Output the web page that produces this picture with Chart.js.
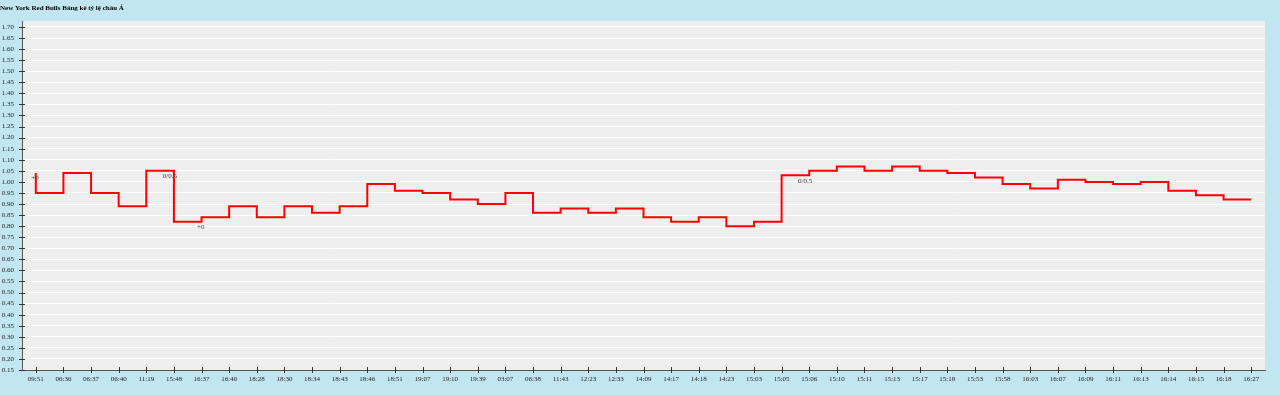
<!DOCTYPE html>
<html>
<head>
<meta charset="utf-8">
<script src="https://cdn.jsdelivr.net/npm/chart.js@4"></script>
<style>
  html, body { margin: 0; padding: 0; background: #c2e6f0; }
  #wrap { width: 1280px; height: 395px; }
</style>
</head>
<body>
<div id="wrap"><canvas id="c" width="1280" height="395"></canvas></div>
<script>
const chartTitle = 'New York Red Bulls Bảng kê tỷ lệ châu Á';

const timeLabels = ['09:51','06:36','06:37','06:40','11:19','15:48','16:37','16:40','18:28','18:30',
  '18:34','18:43','18:46','18:51','19:07','19:10','19:39','03:07','06:38','11:43',
  '12:23','12:33','14:09','14:17','14:18','14:23','15:03','15:05','15:06','15:10',
  '15:11','15:13','15:17','15:18','15:53','15:58','16:03','16:07','16:09','16:11',
  '16:13','16:14','16:15','16:18','16:27'];

const oddsValues = [1.04,0.95,1.04,0.95,0.89,1.05,0.82,0.84,0.89,0.84,
  0.89,0.86,0.89,0.99,0.96,0.95,0.92,0.90,0.95,0.86,
  0.88,0.86,0.88,0.84,0.82,0.84,0.80,0.82,1.03,1.05,
  1.07,1.05,1.07,1.05,1.04,1.02,0.99,0.97,1.01,1.00,
  0.99,1.00,0.96,0.94,0.92];

const handicapNotes = ['+0','','','','','0/0.5','+0','','','',
  '','','','','','','','','','',
  '','','','','','','','','0/0.5','',
  '','','','','','','','','','',
  '','','','',''];

const yTickValues = [0.15,0.20,0.25,0.30,0.35,0.40,0.45,0.50,0.55,0.60,
  0.65,0.70,0.75,0.80,0.85,0.90,0.95,1.00,1.05,1.10,
  1.15,1.20,1.25,1.30,1.35,1.40,1.45,1.50,1.55,1.60,1.65,1.70];

const serif = '"Liberation Serif", "Times New Roman", serif';

const decoPlugin = {
  id: 'deco',
  beforeDraw(chart) {
    const {ctx, chartArea: a} = chart;
    ctx.save();
    ctx.fillStyle = '#eeeeee';
    ctx.fillRect(a.left, a.top, a.right - a.left, a.bottom - a.top);
    ctx.restore();
  },
  afterDraw(chart) {
    const {ctx, chartArea: a, scales} = chart;
    ctx.save();
    ctx.strokeStyle = '#333';
    ctx.lineWidth = 1;
    ctx.beginPath();
    scales.y.ticks.forEach((t, i) => {
      const y = Math.round(scales.y.getPixelForTick(i)) + 0.5;
      ctx.moveTo(a.left - 3, y); ctx.lineTo(a.left + 3, y);
    });
    scales.x.ticks.forEach((t, i) => {
      const x = Math.round(scales.x.getPixelForTick(i)) + 0.5;
      ctx.moveTo(x, a.bottom - 3); ctx.lineTo(x, a.bottom + 3);
    });
    ctx.stroke();
    const meta = chart.getDatasetMeta(0);
    ctx.fillStyle = '#444';
    ctx.font = '7px ' + serif;
    ctx.textAlign = 'right';
    ctx.textBaseline = 'middle';
    handicapNotes.forEach((txt, i) => {
      if (!txt) return;
      const p = meta.data[i];
      ctx.fillText(txt, p.x + 3, p.y + 5.5);
    });
    ctx.restore();
  }
};

new Chart(document.getElementById('c'), {
  type: 'line',
  data: {
    labels: timeLabels,
    datasets: [{
      data: oddsValues,
      borderColor: '#ff0000',
      borderWidth: 2,
      stepped: 'after',
      pointRadius: 0,
      pointHoverRadius: 0,
      fill: false,
      tension: 0
    }]
  },
  options: {
    responsive: false,
    animation: false,
    devicePixelRatio: 1,
    layout: { padding: { left: 0, right: 15, top: 0, bottom: 0 } },
    plugins: {
      legend: { display: false },
      tooltip: { enabled: false },
      title: {
        display: true,
        text: chartTitle,
        align: 'start',
        color: '#000',
        font: { family: serif, size: 7, weight: 'bold' },
        padding: { top: 3.5, bottom: 9.1 }
      }
    },
    scales: {
      x: {
        type: 'category',
        offset: true,
        afterFit(s) { s.height = 25; },
        grid: { display: true, drawOnChartArea: false, drawTicks: false, offset: false },
        border: { display: true, color: '#555', width: 1 },
        ticks: {
          autoSkip: false, maxRotation: 0, minRotation: 0,
          color: '#222', padding: 5,
          font: { family: serif, size: 7 }
        }
      },
      y: {
        min: 0.15,
        max: 1.727,
        afterFit(s) { s.width = 22; },
        afterBuildTicks(s) { s.ticks = yTickValues.map(v => ({ value: v })); },
        grid: { color: '#ffffff', lineWidth: 1, drawTicks: false },
        border: { display: true, color: '#555', width: 1 },
        ticks: {
          autoSkip: false,
          color: '#222', padding: 8,
          font: { family: serif, size: 7 },
          callback: v => Number(v).toFixed(2)
        }
      }
    }
  },
  plugins: [decoPlugin]
});
</script>
</body>
</html>
